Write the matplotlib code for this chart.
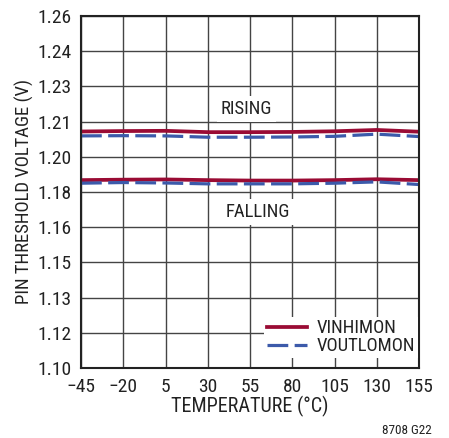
import matplotlib
matplotlib.use("Agg")
import matplotlib.pyplot as plt
from matplotlib import font_manager
import numpy as np

temps = [-45, -20, 5, 30, 55, 80, 105, 130, 155]
vinhimon_rise = [1.2075, 1.2077, 1.2078, 1.2072, 1.2072, 1.2073, 1.2076, 1.2082, 1.2074]
voutlomon_rise = [1.2055, 1.2056, 1.2055, 1.2049, 1.2049, 1.2050, 1.2053, 1.2063, 1.2052]
vinhimon_fall = [1.1854, 1.1856, 1.1857, 1.1854, 1.1852, 1.1852, 1.1854, 1.1858, 1.1854]
voutlomon_fall = [1.1840, 1.1843, 1.1841, 1.1837, 1.1837, 1.1837, 1.1840, 1.1846, 1.1834]
x_ticks = [-45, -20, 5, 30, 55, 80, 105, 130, 155]
y_ticks = np.linspace(1.10, 1.26, 11)

names = {f.name for f in font_manager.fontManager.ttflist}
fam = [f for f in ["Roboto Condensed", "Liberation Sans Narrow", "Liberation Sans"] if f in names]
plt.rcParams["font.family"] = fam + ["DejaVu Sans"]

red = "#9a0b34"
blue = "#3c5aaa"
ink = "#222222"

fig = plt.figure(figsize=(4.49, 4.38), dpi=100)
ax = fig.add_axes([0.1804, 0.1598, 0.7528, 0.8037])

ax.plot(temps, vinhimon_rise, color=red, lw=2.7, label="VINHIMON")
ax.plot(temps, voutlomon_rise, color=blue, lw=2.3, dashes=(6.5, 2), label="VOUTLOMON")
ax.plot(temps, vinhimon_fall, color=red, lw=2.7)
ax.plot(temps, voutlomon_fall, color=blue, lw=2.3, dashes=(6.5, 2))

ax.set_xlim(-45, 155)
ax.set_ylim(1.10, 1.26)
ax.set_xticks(x_ticks)
ax.set_yticks(y_ticks)
ax.set_yticklabels(["%.2f" % v for v in y_ticks])
ax.grid(True, color="#444444", lw=1.0)
ax.tick_params(length=0, labelsize=14, pad=7, colors=ink)
for s in ax.spines.values():
    s.set_linewidth(1.5)
    s.set_color(ink)

ax.set_xlabel("TEMPERATURE (°C)", fontsize=14.5, color=ink, labelpad=0)
ylab = ax.set_ylabel("PIN THRESHOLD VOLTAGE (V)", fontsize=12, color=ink, labelpad=2)
# fit the y label to the length it has in the original (about 226 px)
r = fig.canvas.get_renderer()
h = ylab.get_window_extent(r).height
ylab.set_fontsize(12 * 226 / h)

box = dict(facecolor="white", edgecolor="none", pad=3)
ax.text(53, 1.2177, "RISING", fontsize=13.5, ha="center", va="center", color=ink, bbox=box)
ax.text(59.5, 1.1709, "FALLING", fontsize=13.5, ha="center", va="center", color=ink, bbox=box)

leg = ax.legend(loc="lower right", bbox_to_anchor=(1.0, 0.025), fontsize=13.5, frameon=True,
                fancybox=False, edgecolor="none", framealpha=1, handlelength=2.15,
                handletextpad=0.53, borderaxespad=0.05, borderpad=0.15, labelspacing=0.0)
for t in leg.get_texts():
    t.set_color(ink)

fig.text(0.962, 0.016, "8708 G22", fontsize=9.5, ha="right", va="center", color=ink)

fig.savefig("out.png", dpi=100)
